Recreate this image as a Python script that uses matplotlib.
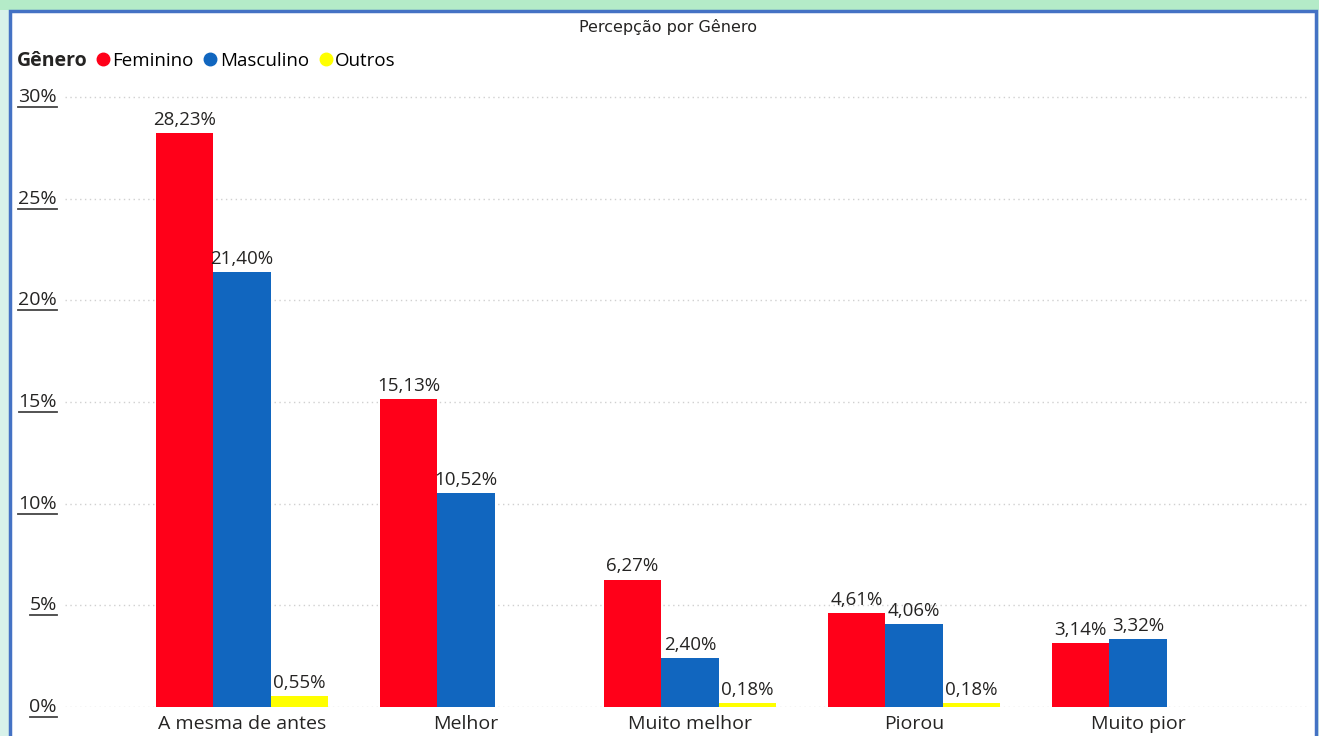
import numpy as np
import matplotlib.pyplot as plt
from matplotlib.patches import Rectangle
from matplotlib.lines import Line2D

# dados do grafico
categorias = ['A mesma de antes', 'Melhor', 'Muito melhor', 'Piorou', 'Muito pior']
feminino = [28.23, 15.13, 6.27, 4.61, 3.14]
masculino = [21.40, 10.52, 2.40, 4.06, 3.32]
outros = [0.55, None, 0.18, 0.18, None]
generos = ['Feminino', 'Masculino', 'Outros']
cores = ['#FF0019', '#1166BF', '#FFFF00']
yticks = [0, 5, 10, 15, 20, 25, 30]

plt.rcParams['font.family'] = ['Open Sans', 'DejaVu Sans']

W, H = 1319, 736
fig = plt.figure(figsize=(W / 100, H / 100), dpi=100)
fig.patch.set_facecolor('#d8f2ea')

# fundo verde no topo e moldura azul
fig.patches.append(Rectangle((0, 1 - 10 / H), 1, 10 / H, transform=fig.transFigure,
                             facecolor='#b4ebc8', edgecolor='none', zorder=0))
fig.patches.append(Rectangle((9.5 / W, -0.05), (1316 - 9.5) / W, 1.05 - 11 / H,
                             transform=fig.transFigure, facecolor='white',
                             edgecolor='#4472C4', linewidth=2.5, zorder=1))

# eixo: 0% em y=707, 30% em y=97 (pixels)
px_pct = (707 - 97) / 30
ymax = 31
top_px = 707 - ymax * px_pct
x0, x1 = 65, 1310
ax = fig.add_axes([x0 / W, (H - 707) / H, (x1 - x0) / W, (707 - top_px) / H])
ax.set_facecolor('none')
ax.set_zorder(2)

larg = 57.5 / 224
pos = np.arange(len(categorias))
ax.set_xlim((x0 - 242) / 224, (x1 - 242) / 224)
ax.set_ylim(0, ymax)

for i, serie in enumerate([feminino, masculino, outros]):
    for j, v in enumerate(serie):
        if v is None:
            continue
        xc = pos[j] + (i - 1) * larg
        ax.bar(xc, v, width=larg, color=cores[i], zorder=3)
        ax.annotate(f'{v:.2f}%'.replace('.', ','), (xc, v), xytext=(0, 3),
                    textcoords='offset points', ha='center', va='bottom',
                    fontsize=13.5, color='#252423', zorder=4)

for t in yticks:
    ax.axhline(t, color='#d0d0d0', linestyle=(0, (1, 2.5)), linewidth=1, zorder=1)

for s in ax.spines.values():
    s.set_visible(False)
ax.set_xticks(pos)
ax.set_xticklabels(categorias, fontsize=14, color='#252423')
ax.tick_params(axis='x', length=0, pad=6)
ax.set_yticks([])

# rotulos do eixo y sublinhados
ylabels = []
for t in yticks:
    txt = ax.text(57 / W, (H - (707 - t * px_pct)) / H, f'{t}%', transform=fig.transFigure,
                  ha='right', va='center', fontsize=14, color='#252423')
    ylabels.append(txt)

fig.text(668 / W, 1 - 27 / H, 'Percepção por Gênero', ha='center', va='center',
         fontsize=11.5, color='#252423', family='DejaVu Sans')

# legenda
fig.text(17 / W, 1 - 61 / H, 'Gênero', ha='left', va='center', fontsize=14,
         fontweight='bold', color='#252423')
handles = [Line2D([], [], marker='o', linestyle='none', markersize=9, color=c) for c in cores]
fig.legend(handles, generos, loc='center left', bbox_to_anchor=(97 / W, 1 - 61 / H),
           ncol=3, frameon=False, fontsize=13.5, handlelength=0.6, handletextpad=0.2,
           columnspacing=0.6, borderaxespad=0, borderpad=0)

fig.canvas.draw()
r = fig.canvas.get_renderer()
for txt in ylabels:
    bb = txt.get_window_extent(r)
    fig.add_artist(Line2D([bb.x0 / W, bb.x1 / W], [(bb.y0 - 1) / H, (bb.y0 - 1) / H],
                          transform=fig.transFigure, color='#444444', linewidth=1.3))

fig.savefig('out.png', dpi=100, facecolor=fig.get_facecolor())
